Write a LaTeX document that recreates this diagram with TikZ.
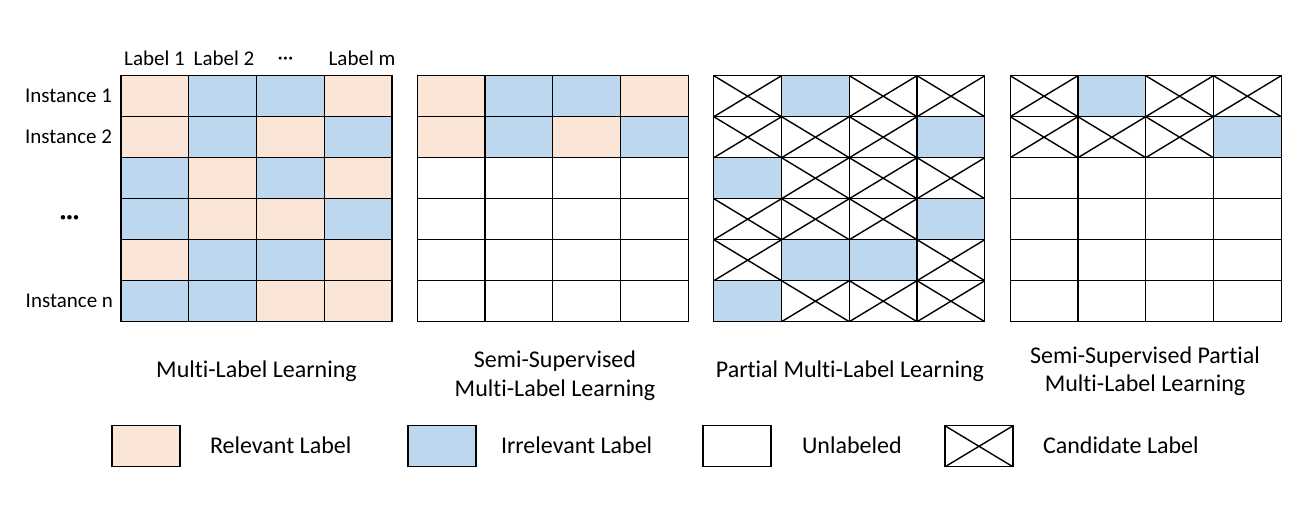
\documentclass[tikz,border=0pt]{standalone}
\usepackage{fontspec}
\setmainfont{Carlito}[Ligatures=NoCommon]
\definecolor{rel}{HTML}{FBE5D6}
\definecolor{irr}{HTML}{BDD7EE}
\begin{document}
\begin{tikzpicture}[x=1pt,y=-1pt,
  cell/.style={rectangle, draw=black, line width=1.2pt, minimum width=67.75pt, minimum height=41pt, inner sep=0pt, outer sep=0pt},
  lbox/.style={cell, minimum width=68pt},
  relc/.style={fill=rel},
  irrc/.style={fill=irr},
  unlc/.style={fill=white},
  candc/.style={fill=white, path picture={\draw[line width=1.4pt]
      (path picture bounding box.north west) -- (path picture bounding box.south east)
      (path picture bounding box.north east) -- (path picture bounding box.south west);}},
  ctype/.code={\if#1R\pgfkeysalso{/tikz/relc}\fi
               \if#1I\pgfkeysalso{/tikz/irrc}\fi
               \if#1U\pgfkeysalso{/tikz/unlc}\fi
               \if#1X\pgfkeysalso{/tikz/candc}\fi},
  lab/.style={font=\fontsize{21}{25}\selectfont, inner sep=0pt, outer sep=0pt},
  ttl/.style={font=\fontsize{24}{28}\selectfont, inner sep=0pt, outer sep=0pt},
  dots/.style={font=\fontsize{24}{28}\selectfont\bfseries, inner sep=0pt, outer sep=0pt}
]
\useasboundingbox (0,0) rectangle (1311,510);
\fill[white] (0,0) rectangle (1311,510);

% grid 1: multi-label learning
\foreach \row [count=\r] in {{R,I,I,R},{R,I,R,I},{I,R,I,R},{I,R,R,I},{R,I,I,R},{I,I,R,R}}
  \foreach \c [count=\k] in \row
    \node[cell, ctype=\c] (a-\r-\k) at ({121+67.75*(\k-0.5)},{75.7+41*(\r-0.5)}) {};
% grid 2: semi-supervised
\foreach \row [count=\r] in {{R,I,I,R},{R,I,R,I},{U,U,U,U},{U,U,U,U},{U,U,U,U},{U,U,U,U}}
  \foreach \c [count=\k] in \row
    \node[cell, ctype=\c] (b-\r-\k) at ({417.3+67.75*(\k-0.5)},{75.7+41*(\r-0.5)}) {};
% grid 3: partial
\foreach \row [count=\r] in {{X,I,X,X},{X,X,X,I},{I,X,X,X},{X,X,X,I},{X,I,I,X},{I,X,X,X}}
  \foreach \c [count=\k] in \row
    \node[cell, ctype=\c] (c-\r-\k) at ({713.8+67.75*(\k-0.5)},{75.7+41*(\r-0.5)}) {};
% grid 4: semi-supervised partial
\foreach \row [count=\r] in {{X,I,X,X},{X,X,X,I},{U,U,U,U},{U,U,U,U},{U,U,U,U},{U,U,U,U}}
  \foreach \c [count=\k] in \row
    \node[cell, ctype=\c] (d-\r-\k) at ({1010.2+67.75*(\k-0.5)},{75.7+41*(\r-0.5)}) {};

% column headers
\node[lab, anchor=base] (h1) at (154.5,66) {Label 1};
\node[lab, anchor=base] (h2) at (224,66) {Label 2};
\node[lab, anchor=base] (h3) at (285.5,65) {···};
\node[lab, anchor=base] (h4) at (362,66) {Label m};

% row headers
\node[lab, anchor=base east] (r1) at (112,103) {Instance 1};
\node[lab, anchor=base east] (r2) at (112,144) {Instance 2};
\node[dots, anchor=base] (r3) at (69.6,225) {···};
\node[lab, anchor=base east] (r6) at (113,308) {Instance n};

% titles
\node[ttl, anchor=base] (t1) at (256.5,377) {Multi-Label Learning};
\node[ttl, anchor=base] (t2a) at (555,367) {Semi-Supervised};
\node[ttl, anchor=base] (t2b) at (555,396) {Multi-Label Learning};
\node[ttl, anchor=base] (t3) at (850,377) {Partial Multi-Label Learning};
\node[ttl, anchor=base] (t4a) at (1145,363) {Semi-Supervised Partial};
\node[ttl, anchor=base] (t4b) at (1145,391) {Multi-Label Learning};

% legend
\node[lbox, relc] (l1) at (146,446.3) {};
\node[lbox, irrc] (l2) at (442,446.3) {};
\node[lbox, unlc] (l3) at (737,446.3) {};
\node[lbox, candc] (l4) at (979,446.3) {};
\node[ttl, anchor=base west] (lt1) at (210,453.5) {Relevant Label};
\node[ttl, anchor=base west] (lt2) at (501,453.5) {Irrelevant Label};
\node[ttl, anchor=base west] (lt3) at (802,453.5) {Unlabeled};
\node[ttl, anchor=base west] (lt4) at (1043,453.5) {Candidate Label};
\end{tikzpicture}
\end{document}
